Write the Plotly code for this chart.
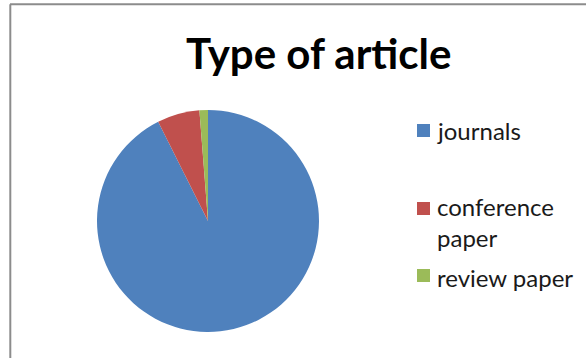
import plotly.graph_objects as go

labels = ["journals", "conference paper", "review paper"]
legend_text = ["journals", "conference<br>paper", "review paper"]
values = [75, 5, 1]
colors = ["#4F81BD", "#C0504D", "#9BBB59"]

W, H = 586, 358

fig = go.Figure()
cx, cy, r = 208, 221, 111
fig.add_trace(go.Pie(
    labels=labels, values=values, sort=False, direction="clockwise", rotation=0,
    marker=dict(colors=colors, line=dict(width=0)),
    textinfo="none", hoverinfo="label+value", showlegend=False,
    domain=dict(x=[(cx - r) / W, (cx + r) / W], y=[(H - cy - r) / H, (H - cy + r) / H]),
))

shapes = [
    dict(type="line", xref="paper", yref="paper", x0=10 / W, x1=1, y0=1 - 4.3 / H, y1=1 - 4.3 / H,
         line=dict(color="#8c8c8c", width=2)),
    dict(type="line", xref="paper", yref="paper", x0=10.3 / W, x1=10.3 / W, y0=0, y1=1 - 4.3 / H,
         line=dict(color="#8c8c8c", width=2)),
]
annotations = [
    dict(text="<b>Type of article</b>", x=318 / W, y=1 - 53 / H, xref="paper", yref="paper",
         showarrow=False, xanchor="center", yanchor="middle",
         font=dict(family="Lato", size=42, color="#000000")),
]
sq_top = [124, 202, 269]
text_y = [131, 222, 277]
for i, lab in enumerate(legend_text):
    shapes.append(dict(type="rect", xref="paper", yref="paper",
                       x0=417 / W, x1=430 / W, y0=1 - (sq_top[i] + 13) / H, y1=1 - sq_top[i] / H,
                       fillcolor=colors[i], line=dict(width=0)))
    annotations.append(dict(text=lab, x=435 / W, y=1 - text_y[i] / H, xref="paper", yref="paper",
                            showarrow=False, xanchor="left", yanchor="middle", align="left",
                            font=dict(family="Lato", size=24, color="#1a1a1a")))

fig.update_layout(
    width=W, height=H, margin=dict(l=0, r=0, t=0, b=0),
    paper_bgcolor="white", plot_bgcolor="white",
    shapes=shapes, annotations=annotations, showlegend=False,
)
fig.write_html("out.html")
